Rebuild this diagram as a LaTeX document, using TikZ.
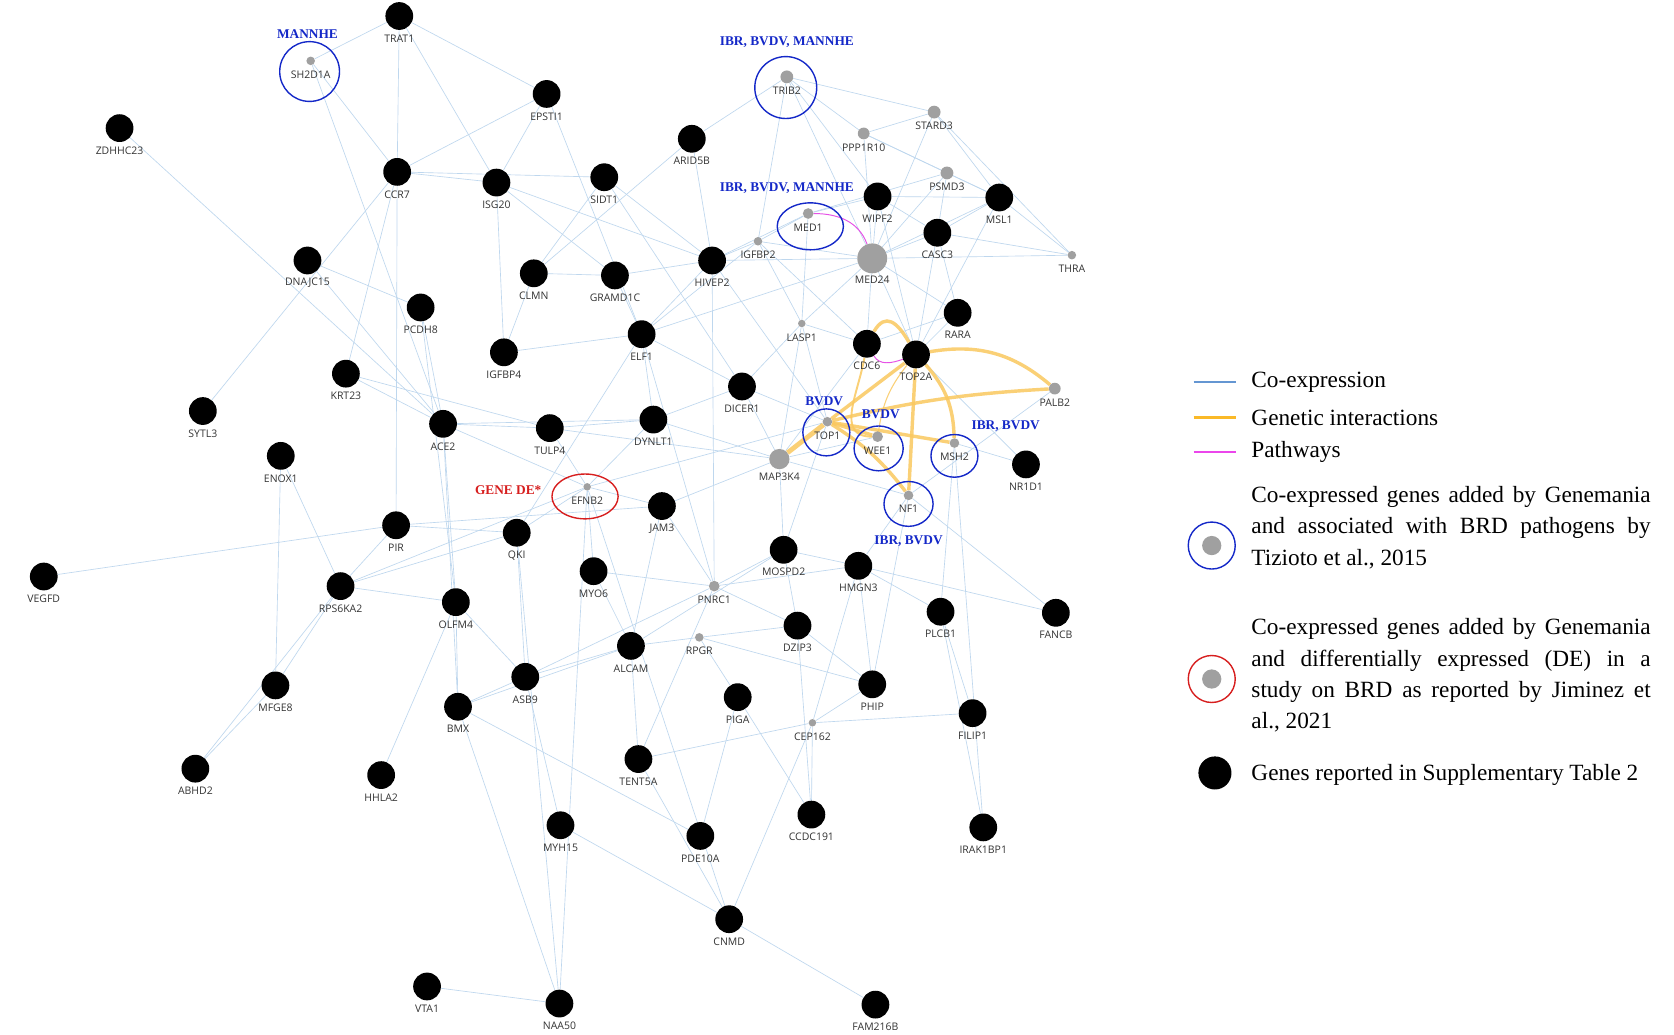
\documentclass[tikz,border=0pt]{standalone}
\usepackage{fontspec}
\setmainfont{Liberation Serif}
\newfontfamily\lbf{Open Sans}
\usetikzlibrary{backgrounds}
\definecolor{eb}{RGB}{190,215,238}
\definecolor{eo}{RGB}{250,200,95}
\definecolor{ep}{RGB}{230,80,230}
\definecolor{gn}{RGB}{160,160,160}
\definecolor{bl}{RGB}{20,40,200}
\definecolor{rd}{RGB}{215,30,30}
\tikzset{
 bn/.style={circle,fill=black,inner sep=0,minimum size=26pt},
 gd/.style={circle,fill=gn,inner sep=0,minimum size=#1},
 gd/.default=8pt,
 lb/.style={font=\lbf\fontsize{9.8}{10}\selectfont,text=black!80,inner sep=0},
 pl/.style={font=\bfseries\fontsize{12.5}{13}\selectfont,text=bl,inner sep=0},
 ring/.style={draw=bl,line width=1.3pt},
 e/.style={draw=eb,line width=0.6pt},
 go/.style={draw=eo,line width=3.2pt,opacity=0.85},
 pw/.style={draw=ep,line width=0.9pt},
 leg/.style={font=\fontsize{21.8}{29.5}\selectfont,inner sep=0,anchor=north west}
}
\newcommand{\BN}[3]{\node[bn] (#1) at (#2,#3) {};\node[lb] at (#2,#3+21) {#1};}
\newcommand{\GN}[4]{\node[gd=#4] (#1) at (#2,#3) {};\node[lb] at (#2,#3+13) {#1};}
\begin{document}
\hyphenpenalty=10000 \exhyphenpenalty=10000
\begin{tikzpicture}[x=1pt,y=-1pt]
\useasboundingbox (0,0) rectangle (1568,969);
\BN{TRAT1}{374}{15}\BN{EPSTI1}{512}{88}\BN{ZDHHC23}{112}{120}\BN{ARID5B}{648}{130}
\BN{CCR7}{372}{161}\BN{ISG20}{465}{171}\BN{SIDT1}{566}{166}\BN{WIPF2}{822}{184}
\BN{MSL1}{936}{185}\BN{CASC3}{878}{218}\BN{DNAJC15}{288}{244}\BN{CLMN}{500}{256}
\BN{GRAMD1C}{576}{258}\BN{HIVEP2}{667}{244}\BN{PCDH8}{394}{288}\BN{RARA}{897}{293}
\BN{ELF1}{601}{313}\BN{IGFBP4}{472}{330}\BN{CDC6}{812}{322}\BN{TOP2A}{858}{332}
\BN{KRT23}{324}{350}\BN{DICER1}{695}{362}\BN{SYTL3}{190}{385}\BN{ACE2}{415}{397}
\BN{TULP4}{515}{401}\BN{DYNLT1}{612}{393}\BN{ENOX1}{263}{427}\BN{NR1D1}{961}{435}
\BN{JAM3}{620}{474}\BN{PIR}{371}{492}\BN{QKI}{484}{499}\BN{MOSPD2}{734}{515}
\BN{HMGN3}{804}{530}\BN{VEGFD}{41}{540}\BN{MYO6}{556}{535}\BN{RPS6KA2}{319}{549}
\BN{OLFM4}{427}{564}\BN{PLCB1}{881}{573}\BN{FANCB}{989}{574}\BN{DZIP3}{747}{586}
\BN{ALCAM}{591}{605}\BN{ASB9}{492}{634}\BN{PHIP}{817}{641}\BN{MFGE8}{258}{642}
\BN{PIGA}{691}{653}\BN{BMX}{429}{662}\BN{FILIP1}{911}{668}\BN{ABHD2}{183}{720}
\BN{HHLA2}{357}{726}\BN{TENT5A}{598}{711}\BN{CCDC191}{760}{763}\BN{MYH15}{525}{773}
\BN{IRAK1BP1}{921}{775}\BN{PDE10A}{656}{783}\BN{CNMD}{683}{861}\BN{VTA1}{400}{924}
\BN{NAA50}{524}{940}\BN{FAM216B}{820}{941}
\GN{SH2D1A}{291}{57}{8pt}\GN{TRIB2}{737}{72}{12pt}\GN{PPP1R10}{809}{125}{11pt}
\GN{STARD3}{875}{105}{12pt}\GN{PSMD3}{887}{162}{12pt}\GN{MED1}{757}{200}{10pt}
\GN{IGFBP2}{710}{226}{8pt}\node[gd=28pt] (MED24) at (817,242) {};\node[lb] at (817,262) {MED24};
\GN{THRA}{1004}{239}{8pt}\GN{LASP1}{751}{303}{7pt}\GN{PALB2}{988}{364}{11pt}
\GN{TOP1}{775}{395}{9pt}\GN{WEE1}{822}{409}{10pt}\GN{MSH2}{894}{415}{9pt}
\node[gd=19pt] (MAP3K4) at (730,430) {};\node[lb] at (730,447) {MAP3K4};
\GN{NF1}{851}{464}{9pt}\GN{EFNB2}{550}{456}{7pt}\GN{PNRC1}{669}{549}{10pt}
\GN{RPGR}{655}{597}{8pt}\GN{CEP162}{761}{677}{7pt}
% rings
\draw[ring] (290,67) circle (28);
\draw[ring] (736,82) circle (29);
\draw[ring] (759,212) ellipse (31 and 22);
\draw[ring] (774,405) circle (22);
\draw[ring] (823,420) ellipse (23 and 21);
\draw[ring] (894,427) ellipse (22 and 20);
\draw[ring] (851,472) ellipse (23 and 21);
\draw[draw=rd,line width=1.3pt] (548,465) ellipse (31 and 21);
\node[pl] at (288,32) {MANNHE};
\node[pl] at (737,39) {IBR, BVDV, MANNHE};
\node[pl] at (737,176) {IBR, BVDV, MANNHE};
\node[pl] at (772,376) {BVDV};
\node[pl] at (825,388) {BVDV};
\node[pl] at (942,399) {IBR, BVDV};
\node[pl] at (851,507) {IBR, BVDV};
\node[pl,text=rd] at (476,459) {GENE DE*};
\begin{pgfonlayer}{background}
\fill[white] (0,0) rectangle (1568,969);
\foreach \a/\b in {TRAT1/CCR7,TRAT1/EPSTI1,TRAT1/SH2D1A,TRAT1/ISG20,SH2D1A/CCR7,SH2D1A/ACE2,EPSTI1/ISG20,EPSTI1/CCR7,EPSTI1/ELF1,CCR7/ISG20,CCR7/SIDT1,CCR7/PIR,CCR7/KRT23,ISG20/HIVEP2,ISG20/GRAMD1C,ISG20/IGFBP4,SIDT1/HIVEP2,SIDT1/CLMN,SIDT1/DICER1,ZDHHC23/ACE2,DNAJC15/PCDH8,DNAJC15/ACE2,PCDH8/ACE2,PCDH8/OLFM4,KRT23/ACE2,KRT23/TULP4,SYTL3/CCR7,ENOX1/RPS6KA2,ENOX1/MFGE8,ACE2/OLFM4,ACE2/BMX,ACE2/TULP4,ACE2/DYNLT1,PIR/RPS6KA2,PIR/QKI,PIR/JAM3,QKI/RPS6KA2,QKI/ASB9,QKI/EFNB2,QKI/ELF1,RPS6KA2/MFGE8,RPS6KA2/ABHD2,RPS6KA2/OLFM4,RPS6KA2/EFNB2,VEGFD/PIR,OLFM4/BMX,OLFM4/ASB9,MFGE8/ABHD2,HHLA2/OLFM4,BMX/ASB9,BMX/NAA50,BMX/PDE10A,BMX/ALCAM,ASB9/ALCAM,ASB9/MYH15,ASB9/PNRC1,ALCAM/RPGR,ALCAM/TENT5A,ALCAM/MOSPD2,ALCAM/JAM3,MYO6/PNRC1,MYO6/EFNB2,MYO6/ALCAM,PNRC1/MOSPD2,PNRC1/DZIP3,PNRC1/HMGN3,PNRC1/JAM3,PNRC1/TENT5A,PNRC1/ELF1,RPGR/DZIP3,RPGR/PIGA,RPGR/PHIP,CEP162/CCDC191,CEP162/PHIP,CEP162/TENT5A,CEP162/HMGN3,CEP162/FILIP1,PIGA/CCDC191,TENT5A/CNMD,CNMD/MYH15,CNMD/FAM216B,CNMD/CEP162,CNMD/EFNB2,VTA1/NAA50,NAA50/QKI,NAA50/EFNB2,PDE10A/PIGA,CCDC191/DZIP3,IRAK1BP1/PLCB1,IRAK1BP1/MSH2,FILIP1/PLCB1,PLCB1/HMGN3,PLCB1/MSH2,FANCB/HMGN3,FANCB/NF1,PHIP/HMGN3,PHIP/NF1,HMGN3/MOSPD2,HMGN3/NF1,MOSPD2/TOP1,MOSPD2/MAP3K4,MOSPD2/DZIP3,DZIP3/PHIP,JAM3/MAP3K4,JAM3/EFNB2,EFNB2/TULP4,EFNB2/DYNLT1,DYNLT1/MAP3K4,DYNLT1/ELF1,DYNLT1/TULP4,DICER1/MAP3K4,DICER1/ELF1,DICER1/LASP1,DICER1/TOP1,ELF1/GRAMD1C,ELF1/HIVEP2,ELF1/MED24,ELF1/IGFBP4,CLMN/GRAMD1C,CLMN/IGFBP4,GRAMD1C/HIVEP2,HIVEP2/IGFBP2,HIVEP2/ARID5B,HIVEP2/MED1,HIVEP2/MED24,HIVEP2/PNRC1,ARID5B/TRIB2,ARID5B/CLMN,TRIB2/PPP1R10,TRIB2/MED24,TRIB2/WIPF2,TRIB2/IGFBP2,TRIB2/STARD3,PPP1R10/STARD3,PPP1R10/MED24,PPP1R10/MSL1,PPP1R10/PSMD3,STARD3/MSL1,STARD3/THRA,STARD3/MED24,PSMD3/MED24,PSMD3/MSL1,PSMD3/CASC3,WIPF2/MED24,WIPF2/MSL1,WIPF2/MED1,WIPF2/CASC3,MSL1/THRA,MSL1/CASC3,MSL1/MED24,CASC3/THRA,CASC3/MED24,CASC3/RARA,MED24/IGFBP2,MED24/LASP1,MED24/CDC6,MED24/TOP2A,MED24/RARA,MED24/THRA,MED1/LASP1,MED1/IGFBP2,MED1/PSMD3,LASP1/IGFBP2,LASP1/TOP1,RARA/TOP2A,RARA/CDC6,TOP2A/NR1D1,MSH2/NR1D1,PALB2/NF1,CDC6/MAP3K4,WEE1/MAP3K4,MAP3K4/NF1,TOP1/EFNB2,LASP1/MAP3K4,CDC6/LASP1,IGFBP2/ELF1,EFNB2/ACE2,TULP4/MAP3K4,DYNLT1/DICER1,WIPF2/TOP2A,CASC3/TOP2A,MSL1/TOP2A,IGFBP2/CDC6,HIVEP2/TOP1}
 \draw[e] (\a) -- (\b);
% genetic interactions
\draw[go,line width=4.5pt] (MAP3K4) -- (TOP1);
\draw[go] (TOP1) -- (TOP2A);
\draw[go] (TOP1) to[bend left=5] (PALB2);
\draw[go] (TOP1) -- (WEE1);
\draw[go] (TOP1) -- (MSH2);
\draw[go] (TOP1) to[bend left=10] (NF1);
\draw[go] (TOP2A) to[bend left=25] (PALB2);
\draw[go] (TOP2A) -- (NF1);
\draw[go] (TOP2A) to[bend left=20] (MSH2);
\draw[go] (CDC6) to[out=60,in=120,looseness=1.6] (TOP2A);
\draw[go,line width=1.8pt] (CDC6) to[out=-100,in=180,looseness=1.2] (WEE1);
\draw[go,line width=1pt] (TOP2A) to[bend right=15] (WEE1);
\draw[pw] (MED1) to[out=0,in=110] (MED24);
\draw[pw] (CDC6) to[out=-60,in=200] (TOP2A);
\end{pgfonlayer}
% legend
\coordinate (l1) at (1118,358);\coordinate (l1e) at (1158,358);
\coordinate (l2) at (1118,391);\coordinate (l2e) at (1158,391);
\coordinate (l3) at (1118,423);\coordinate (l3e) at (1158,423);
\draw[draw={rgb,255:red,100;green,150;blue,210},line width=2pt] (l1)--(l1e);
\draw[draw={rgb,255:red,250;green,185;blue,40},line width=2pt] (l2)--(l2e);
\draw[draw={rgb,255:red,235;green,70;blue,235},line width=2pt] (l3)--(l3e);
\node[leg,anchor=west] at (1172,358) {Co-expression};
\node[leg,anchor=west] at (1172,391) {Genetic interactions};
\node[leg,anchor=west] at (1172,423) {Pathways};
\draw[ring] (1135,511) circle (22);\node[gd=18pt] (lg1) at (1135,511) {};
\draw[draw=rd,line width=1.3pt] (1135,636) circle (22);\node[gd=18pt] (lg2) at (1135,636) {};
\node[bn,minimum size=31pt] (lg3) at (1138,724) {};
\node[leg,text width=374pt,align=justify] at (1172,455) {Co-expressed genes added by Genemania\linebreak and associated with BRD pathogens by\linebreak Tizioto et al., 2015};
\node[leg,text width=374pt,align=justify] at (1172,579) {Co-expressed genes added by Genemania\linebreak and differentially expressed (DE) in a\linebreak study on BRD as reported by Jiminez et\linebreak al., 2021};
\node[leg,anchor=west] at (1172,726) {Genes reported in Supplementary Table 2};
\end{tikzpicture}
\end{document}
